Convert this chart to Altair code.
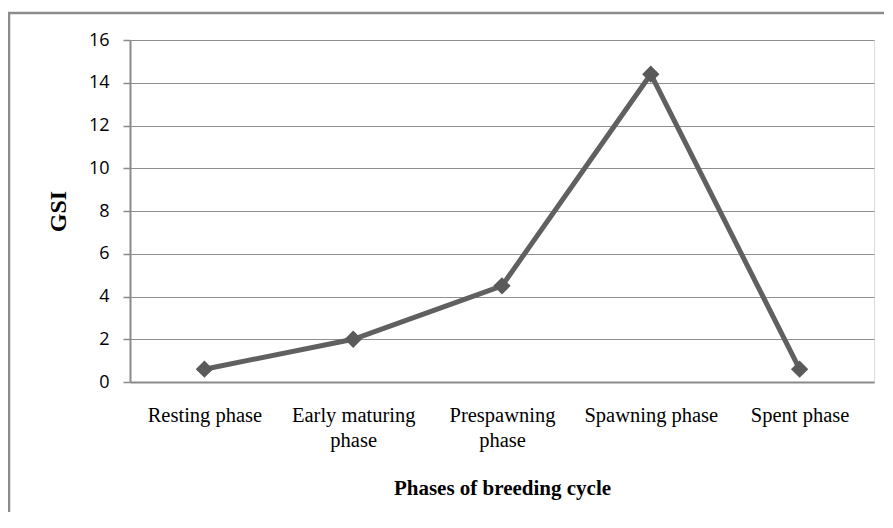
import altair as alt
import pandas as pd

phases = ["Resting phase", "Early maturing phase", "Prespawning phase", "Spawning phase", "Spent phase"]
gsi = [0.6, 2.0, 4.5, 14.4, 0.6]
y_ticks = [0, 2, 4, 6, 8, 10, 12, 14, 16]

df = pd.DataFrame({"phase": phases, "gsi": gsi})

label_expr = (
    "datum.label == 'Early maturing phase' ? ['Early maturing', 'phase'] : "
    "datum.label == 'Prespawning phase' ? ['Prespawning', 'phase'] : datum.label"
)

x = alt.X(
    "phase:O",
    sort=phases,
    scale=alt.Scale(type="point", padding=0.5),
    axis=alt.Axis(
        title="Phases of breeding cycle",
        labelExpr=label_expr,
        labelAngle=0,
        labelFont="Liberation Serif",
        labelFontSize=20.5,
        labelColor="black",
        labelLineHeight=25,
        labelPadding=23,
        labelBaseline="top",
        ticks=False,
        domainColor="#8a8a8a",
        domainWidth=2,
        titleFont="Liberation Serif",
        titleFontSize=21,
        titleFontWeight="bold",
        titleColor="black",
        titleY=106,
        titleBaseline="middle",
    ),
)

y = alt.Y(
    "gsi:Q",
    scale=alt.Scale(domain=[0, 16], nice=False),
    axis=alt.Axis(
        title="GSI",
        values=y_ticks,
        labelFont="Open Sans",
        labelFontSize=18,
        labelColor="black",
        labelPadding=14,
        tickSize=7,
        tickColor="#8a8a8a",
        tickWidth=1.5,
        domainColor="#8a8a8a",
        domainWidth=2,
        grid=True,
        gridColor="#8f8f8f",
        gridWidth=1.2,
        titleFont="Liberation Serif",
        titleFontSize=24,
        titleFontWeight="bold",
        titleColor="black",
        titleAngle=270,
        titleX=-72,
        titleY=171,
        titleAlign="center",
        titleBaseline="middle",
    ),
)

border = alt.Chart(pd.DataFrame({"a": [0]})).mark_rect(
    fillOpacity=0, stroke="#8c8c8c", strokeWidth=2.5
).encode(
    x=alt.value(-121), y=alt.value(-27), x2=alt.value(900), y2=alt.value(600)
)

line = alt.Chart(df).mark_line(color="#606060", strokeWidth=5).encode(x=x, y=y)
points = alt.Chart(df).mark_point(
    shape="diamond", filled=True, size=300, color="#5a5a5a", opacity=1
).encode(x=x, y=y)

chart = alt.layer(border, line, points).properties(
    width=744,
    height=342,
    autosize=alt.AutoSizeParams(type="none"),
    padding={"left": 122, "top": 32, "right": 10, "bottom": 130},
).configure_view(stroke=None).configure(background="white")

chart.save("out.html", embed_options={"renderer": "svg", "actions": False})
